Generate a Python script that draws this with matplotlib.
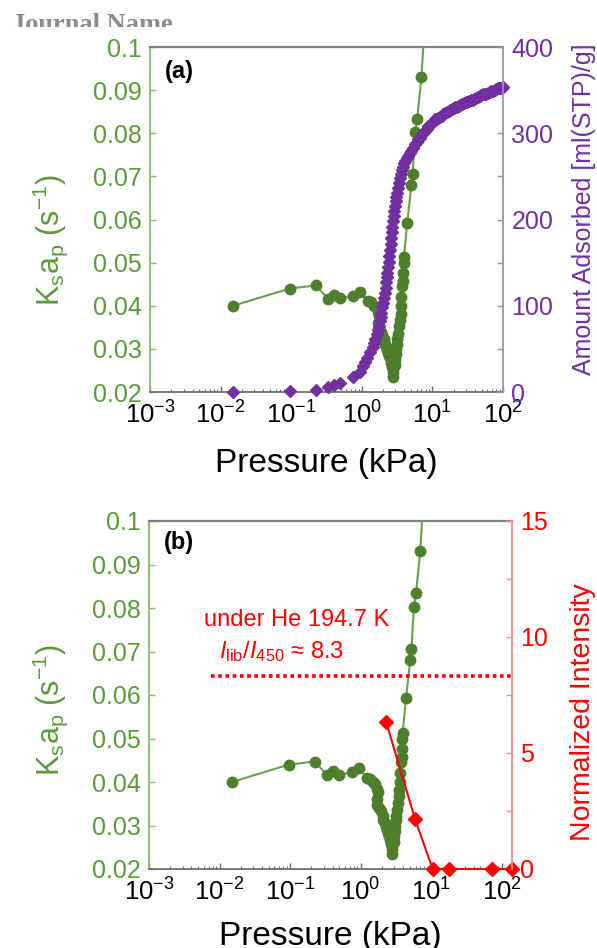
import matplotlib
matplotlib.use('Agg')
import matplotlib.pyplot as plt
import numpy as np
from matplotlib.patches import Rectangle
from matplotlib.ticker import LogLocator, MultipleLocator, FormatStrFormatter, NullFormatter

plt.rcParams['font.family'] = ['Liberation Sans', 'DejaVu Sans']
plt.rcParams['mathtext.fontset'] = 'custom'
plt.rcParams['mathtext.rm'] = 'Liberation Sans'
plt.rcParams['mathtext.it'] = 'Liberation Sans:italic'
plt.rcParams['mathtext.bf'] = 'Liberation Sans:bold'

# Mass transfer coefficient vs pressure (same set in both panels)
ksap_p = [0.015, 0.096, 0.224, 0.332, 0.404, 0.49, 0.75, 0.94,
          1.22, 1.35, 1.50, 1.62, 1.70, 1.78, 1.68, 1.72, 1.85, 1.95, 2.05, 2.10,
          2.20, 2.30, 2.35, 2.45, 2.55, 2.62, 2.70, 2.75, 2.78,
          2.95, 3.00, 3.05, 3.10, 3.15, 3.20, 3.28, 3.35, 3.45, 3.55, 3.60, 3.65,
          3.70, 3.80, 3.85, 3.90, 3.95, 4.40, 5.05, 5.25, 5.70, 6.10, 7.00, 8.60]
ksap = [0.0400, 0.0440, 0.0447, 0.0416, 0.0425, 0.0417, 0.0422, 0.0432,
        0.0410, 0.0408, 0.0400, 0.0396, 0.0385, 0.0377, 0.0360, 0.0347, 0.0340, 0.0333, 0.0322, 0.0312,
        0.0305, 0.0297, 0.0290, 0.0283, 0.0275, 0.0267, 0.0258, 0.0247, 0.0235,
        0.0262, 0.0275, 0.0288, 0.0300, 0.0312, 0.0322, 0.0335, 0.0352, 0.0368, 0.0382, 0.0400, 0.0420,
        0.0445, 0.0458, 0.0476, 0.0499, 0.0513, 0.0593, 0.0680, 0.0706, 0.0802, 0.0834, 0.0930, 0.1180]

# CO2 isotherm
iso_p = [0.015, 0.096, 0.224, 0.33, 0.40, 0.49, 0.75, 0.94,
         1.04, 1.12, 1.20, 1.30, 1.43, 1.50, 1.56, 1.63, 1.69, 1.75, 1.80, 1.85, 1.90, 1.96,
         2.02, 2.08, 2.15, 2.19, 2.23, 2.27, 2.30, 2.35, 2.40, 2.45, 2.50, 2.55, 2.60, 2.64,
         2.68, 2.75, 2.82, 2.90, 2.97, 3.03, 3.10, 3.18, 3.26, 3.36, 3.47, 3.58, 3.70, 3.85,
         4.00, 4.15, 4.30, 4.55, 4.80, 5.05, 5.30, 5.65, 6.00, 6.30, 6.60, 7.00, 7.40, 7.85,
         8.30, 8.80, 9.30, 9.90, 10.5, 11.0, 11.6, 12.2, 12.8, 13.5, 14.3, 15.1, 16.0, 17.0,
         18.0, 19.0, 20.0, 21.2, 22.5, 23.7, 25.0, 26.5, 28.0, 29.5, 31.0, 33.0, 35.0, 37.0,
         39.0, 41.5, 44.0, 46.5, 49.0, 52.0, 55.0, 58.0, 61.0, 64.5, 68.0, 72.0, 76.0, 80.5,
         85.0, 88.5, 92.0, 96.0, 100.0]
iso_amount = [0, 1, 2, 6, 8, 10, 17, 23,
              30, 35, 40, 46, 52, 57, 62, 67, 72, 77, 82, 87, 92, 98,
              103, 109, 115, 121, 127, 133, 138, 145, 151, 158, 165, 172, 178, 185,
              191, 198, 204, 210, 216, 221, 226, 231, 236, 242, 248, 253, 257, 261,
              265, 268, 271, 274, 277, 280, 283, 287, 290, 293, 295, 298, 300, 303,
              305, 308, 310, 312, 314, 316, 317, 318, 319, 320, 322, 323, 325, 326,
              327, 328, 329, 330, 331, 332, 333, 334, 335, 336, 336, 337, 338, 339,
              340, 341, 342, 343, 344, 345, 346, 346, 347, 348, 349, 349, 350, 351,
              352, 352, 353, 353, 354]

# Normalized librational intensity
int_p = [2.3, 5.9, 10.5, 18.0, 74.0, 140.0]
int_val = [6.34, 2.16, 0, 0, 0, 0]
ratio_he = 8.3

green = '#4e7f2c'
green_line = '#6e9e52'
green_txt = '#5c9a3c'
green_spine = '#86bb6a'
purple = '#7030a0'
purple_spine = '#a888cc'
red = '#ff0000'
red_spine = '#ff8a8a'
gray = '#6e6e6e'

fig = plt.figure(figsize=(5.97, 9.48), dpi=100)

fig.text(0.02, 1 - 31 / 948, 'Journal Name', family='Liberation Serif', weight='bold',
         color='#8c8c8c', fontsize=19, va='baseline')
fig.patches.append(Rectangle((0, 1 - 34 / 948), 0.4, 7 / 948, transform=fig.transFigure,
                             facecolor='white', edgecolor='none', zorder=10))


def style_panel(ax, axr, xmax, rcolor, rspine, xlabelpad):
    ax.set_xscale('log')
    ax.set_xlim(1e-3, xmax)
    ax.set_ylim(0.02, 0.1)
    ax.xaxis.set_major_locator(LogLocator(base=10, numticks=10))
    ax.xaxis.set_minor_locator(LogLocator(base=10, subs=np.arange(2, 10), numticks=20))
    ax.xaxis.set_minor_formatter(NullFormatter())
    ax.yaxis.set_major_locator(MultipleLocator(0.01))
    ax.yaxis.set_major_formatter(FormatStrFormatter('%g'))
    ax.tick_params(axis='x', which='major', direction='in', length=4, width=1,
                   color=gray, labelsize=18.5, pad=7)
    ax.tick_params(axis='x', which='minor', direction='in', length=2.5, width=0.8, color=gray)
    ax.tick_params(axis='y', direction='in', length=4, width=1, color=green_spine,
                   labelcolor=green_txt, labelsize=18, pad=6)
    axr.tick_params(axis='y', direction='in', length=4, width=1, color=rspine,
                    labelcolor=rcolor, labelsize=18, pad=6)
    ax.spines['left'].set_color(green_spine)
    ax.spines['left'].set_linewidth(1.3)
    ax.spines['top'].set_color('#808080')
    ax.spines['top'].set_linewidth(1.6)
    ax.spines['bottom'].set_color(gray)
    ax.spines['bottom'].set_linewidth(1.3)
    ax.spines['right'].set_visible(False)
    for s in ('left', 'top', 'bottom'):
        axr.spines[s].set_visible(False)
    axr.spines['right'].set_color(rspine)
    axr.spines['right'].set_linewidth(1.3)
    ax.set_xlabel('Pressure (kPa)', fontsize=24, labelpad=xlabelpad)
    ax.set_ylabel(r'K$_\mathregular{s}$a$_\mathregular{p}$ (s$^{-1}$)', fontsize=22, color=green_txt)


# ---- panel (a) ----
ax1 = fig.add_axes([150 / 597, 1 - 392 / 948, 353 / 597, 345 / 948])
ax1r = ax1.twinx()
ax1.plot(ksap_p, ksap, '-o', color=green_line, lw=1.5, ms=7.5, mfc=green, mec=green, zorder=3)
ax1r.plot(iso_p, iso_amount, 'D', color=purple, ms=6.5, mec=purple, clip_on=False)
ax1r.set_ylim(0, 400)
ax1r.yaxis.set_major_locator(MultipleLocator(50))
ax1r.yaxis.set_major_formatter(plt.FuncFormatter(lambda v, _: f'{v:.0f}' if v % 100 == 0 else ''))
style_panel(ax1, ax1r, 100, purple, purple_spine, 14)
ax1r.set_ylabel('Amount Adsorbed [ml(STP)/g]', fontsize=18, color=purple)
ax1.yaxis.set_label_coords(-0.227, 0.44)
ax1r.yaxis.set_label_coords(1.195, 0.53)
ax1.text(0.042, 0.93, '(a)', transform=ax1.transAxes, fontsize=17, fontweight='bold',
         va='center', ha='left')

# ---- panel (b) ----
ax2 = fig.add_axes([149 / 597, 1 - 869 / 948, 363 / 597, 348 / 948])
ax2r = ax2.twinx()
ax2.plot(ksap_p, ksap, '-o', color=green_line, lw=1.5, ms=7.5, mfc=green, mec=green, zorder=3)
ax2r.plot(int_p, int_val, '-D', color=red, lw=1.5, ms=7, mec=red, clip_on=False)
ax2r.axhline(ratio_he, xmin=(np.log10(0.0076) + 3) / (np.log10(140) + 3), xmax=1,
             color=red, lw=2.6, ls=(0, (1, 1)))
ax2r.set_ylim(0, 15)
ax2r.yaxis.set_major_locator(MultipleLocator(2.5))
ax2r.yaxis.set_major_formatter(plt.FuncFormatter(lambda v, _: f'{v:.0f}' if v % 5 == 0 else ''))
style_panel(ax2, ax2r, 140, red, red_spine, 11)
ax2r.set_ylabel('Normalized Intensity', fontsize=20.5, color=red)
ax2.yaxis.set_label_coords(-0.218, 0.457)
ax2r.yaxis.set_label_coords(1.16, 0.45)
ax2.text(0.042, 0.937, '(b)', transform=ax2.transAxes, fontsize=17, fontweight='bold',
         va='center', ha='left')
ax2.text(0.408, 0.716, 'under He 194.7 K', transform=ax2.transAxes, fontsize=17,
         color=red, ha='center', va='center')
ax2.text(0.366, 0.624, r'$\mathit{I}_\mathrm{lib}/\mathit{I}_\mathrm{450}$ ≈ 8.3',
         transform=ax2.transAxes, fontsize=17, color=red, ha='center', va='center')

fig.savefig('out.png', dpi=100)
